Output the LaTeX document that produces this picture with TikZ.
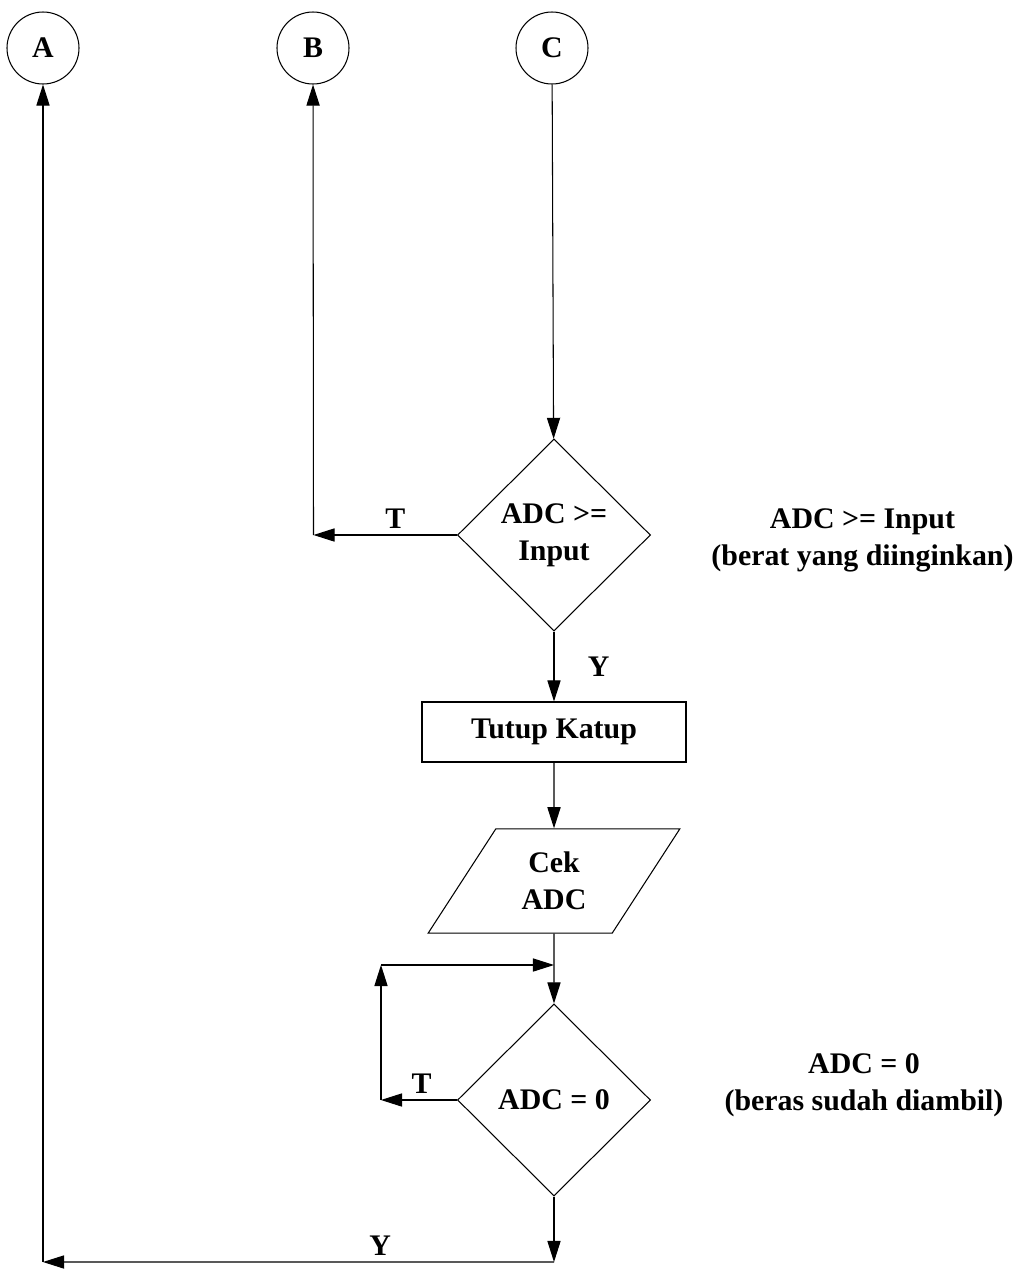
\documentclass[tikz,border=0pt]{standalone}
\usepackage{fontspec}
\setmainfont{Liberation Serif}
\usetikzlibrary{shapes.geometric, arrows.meta, positioning}

\begin{document}
\begin{tikzpicture}
    [>={Triangle[length=12pt,width=7.5pt]}, line width=0.6pt,
    every node/.style={font=\fontsize{17}{21}\selectfont\bfseries}]
    % Define styles for connectors, decisions, process and input/output
    \tikzstyle{conn} = [draw, circle, minimum size=1.44cm, inner sep=0pt]
    \tikzstyle{decision} = [draw, diamond, minimum width=3.86cm, minimum height=3.84cm, inner sep=0pt, align=center]
    \tikzstyle{block} = [draw, rectangle, minimum width=5.28cm, minimum height=1.2cm]
    \tikzstyle{io} = [draw, trapezium, trapezium left angle=57, trapezium right angle=123, minimum width=5.04cm, minimum height=1.88cm, inner sep=0pt, align=center]
    \tikzstyle{note} = [align=center]
    \tikzstyle{input} = [coordinate]

    \useasboundingbox (0,0) rectangle (20.36,-25.42);

    % Connectors on top
    \node [conn] at (0.86,-0.96) (A) {A};
    \node [conn, right of=A, node distance=5.4cm] (B) {B};
    \node [conn, right of=B, node distance=4.78cm] (C) {C};

    % Main column
    \node [decision, below of=C, node distance=9.74cm, xshift=0.04cm] (cekinput) {ADC >=\\Input};
    \node [block, below of=cekinput, node distance=3.94cm] (tutup) {Tutup Katup};
    \node [io, below of=tutup, node distance=2.98cm] (cekadc) {Cek\\ADC};
    \node [decision, below of=cekadc, node distance=4.38cm] (cekzero) {ADC = 0};

    % Notes on the right
    \node [note, right of=cekinput, node distance=6.17cm, yshift=-0.1cm] (noteinput) {ADC >= Input\\(berat yang diinginkan)};
    \node [note, right of=cekzero, node distance=6.2cm, yshift=0.3cm] (notezero) {ADC = 0\\(beras sudah diambil)};

    % Corner points
    \node [input, left of=cekinput, node distance=4.81cm] (cornerB) {};
    \node [input, left of=cekzero, node distance=3.46cm] (loopbot) {};
    \node [input, above of=loopbot, node distance=2.7cm] (looptop) {};
    \node [input, above of=cekzero, node distance=2.7cm] (join) {};
    \node [input, below of=cekzero, node distance=3.24cm] (endY) {};
    \node [input, below of=A, node distance=24.28cm] (cornerA) {};

    % Draw edges
    \draw[->] (C) -- (cekinput);
    \draw[->] (cekinput.west) -- node[midway, above, xshift=0.2cm] {T} (cornerB);
    \draw[->] (cornerB) -- (B);
    \draw[->] (cekinput) -- node[midway, right=0.55cm] {Y} (tutup);
    \draw[->] (tutup) -- (cekadc);
    \draw[->] (cekadc) -- (cekzero);

    % Loop back while ADC is not zero
    \draw[->] (cekzero.west) -- node[midway, above, xshift=0.05cm] {T} (loopbot);
    \draw[->] (loopbot) -- (looptop);
    \draw[->] (looptop) -- (join);

    % Back to A
    \draw[->] (cekzero) -- (endY);
    \draw[->] (endY) -- node[pos=0.34, above] {Y} (cornerA);
    \draw[->] (cornerA) -- (A);
\end{tikzpicture}
\end{document}
